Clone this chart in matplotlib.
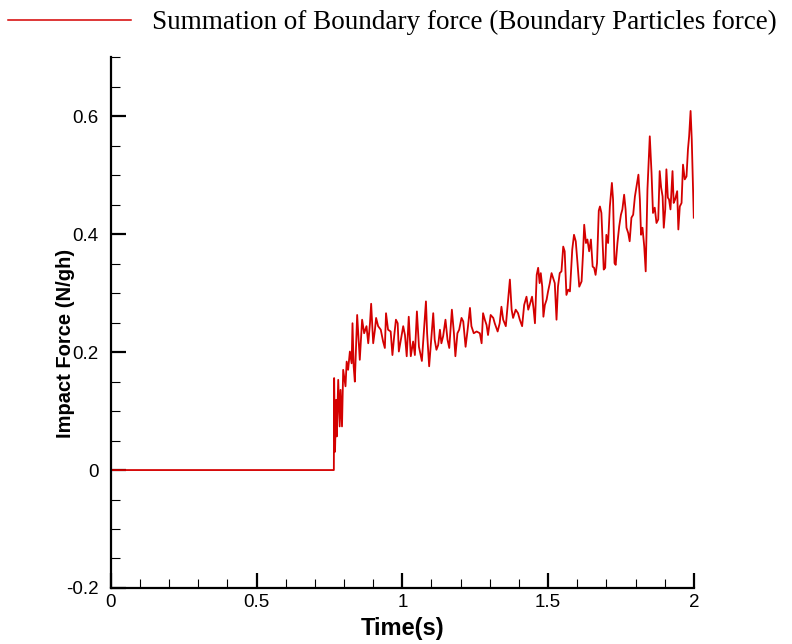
import matplotlib
matplotlib.use("Agg")
import matplotlib.pyplot as plt
from matplotlib.ticker import MultipleLocator, FuncFormatter

# Time (s)
time = [
    0.000, 0.765, 0.766, 0.769, 0.773, 0.775, 0.780, 0.785, 0.788, 0.793, 0.797,
    0.805, 0.809, 0.814, 0.820, 0.826, 0.829, 0.833, 0.837, 0.845, 0.854,
    0.862, 0.869, 0.877, 0.883, 0.889, 0.893, 0.900, 0.906, 0.910, 0.917,
    0.926, 0.934, 0.940, 0.944, 0.951, 0.960, 0.966, 0.972, 0.978, 0.984,
    0.988, 0.995, 1.003, 1.009, 1.015, 1.022, 1.029, 1.037, 1.043, 1.050,
    1.057, 1.067, 1.081, 1.085, 1.092, 1.100, 1.106, 1.111, 1.117, 1.123,
    1.129, 1.134, 1.140, 1.148, 1.155, 1.161, 1.170, 1.177, 1.182, 1.189,
    1.195, 1.203, 1.209, 1.217, 1.224, 1.232, 1.237, 1.245, 1.255, 1.266,
    1.272, 1.277, 1.283, 1.289, 1.294, 1.303, 1.312, 1.317, 1.327, 1.334,
    1.340, 1.346, 1.355, 1.363, 1.369, 1.375, 1.380, 1.389, 1.397, 1.403,
    1.411, 1.418, 1.426, 1.432, 1.437, 1.445, 1.450, 1.455, 1.461, 1.466,
    1.471, 1.475, 1.480, 1.484, 1.489, 1.495, 1.500, 1.506, 1.512, 1.517,
    1.523, 1.529, 1.534, 1.540, 1.546, 1.552, 1.557, 1.563, 1.569, 1.575,
    1.583, 1.589, 1.595, 1.601, 1.607, 1.615, 1.620, 1.624, 1.630, 1.635,
    1.641, 1.647, 1.653, 1.658, 1.663, 1.668, 1.674, 1.678, 1.683, 1.691,
    1.696, 1.700, 1.706, 1.712, 1.719, 1.723, 1.728, 1.732, 1.738, 1.744,
    1.750, 1.755, 1.761, 1.766, 1.769, 1.775, 1.780, 1.786, 1.792, 1.798,
    1.803, 1.810, 1.815, 1.819, 1.824, 1.830, 1.835, 1.841, 1.849, 1.855,
    1.860, 1.866, 1.872, 1.878, 1.883, 1.888, 1.893, 1.897, 1.902, 1.906,
    1.911, 1.915, 1.920, 1.927, 1.931, 1.936, 1.943, 1.947, 1.952, 1.958,
    1.963, 1.969, 1.975, 1.980, 1.984, 1.989, 1.993, 2.000,
]

# Impact force (N/gh)
force = [
    0.000, 0.000, 0.156, 0.031, 0.119, 0.057, 0.153, 0.074, 0.136, 0.074, 0.170,
    0.142, 0.184, 0.170, 0.201, 0.181, 0.249, 0.176, 0.150, 0.263, 0.187,
    0.255, 0.232, 0.244, 0.215, 0.249, 0.282, 0.215, 0.238, 0.258, 0.244,
    0.238, 0.218, 0.207, 0.266, 0.238, 0.235, 0.195, 0.227, 0.255, 0.249,
    0.201, 0.221, 0.244, 0.229, 0.193, 0.260, 0.193, 0.218, 0.195, 0.269,
    0.209, 0.185, 0.286, 0.232, 0.176, 0.227, 0.266, 0.221, 0.204, 0.212,
    0.238, 0.215, 0.227, 0.255, 0.221, 0.207, 0.272, 0.232, 0.193, 0.232,
    0.238, 0.258, 0.252, 0.209, 0.238, 0.275, 0.244, 0.232, 0.235, 0.232,
    0.215, 0.266, 0.255, 0.246, 0.229, 0.263, 0.258, 0.249, 0.235, 0.249,
    0.277, 0.255, 0.244, 0.289, 0.323, 0.272, 0.258, 0.272, 0.266, 0.255,
    0.244, 0.280, 0.294, 0.272, 0.280, 0.294, 0.275, 0.249, 0.331, 0.343,
    0.317, 0.334, 0.311, 0.260, 0.280, 0.289, 0.303, 0.317, 0.334, 0.326,
    0.317, 0.255, 0.311, 0.334, 0.337, 0.379, 0.371, 0.297, 0.306, 0.303,
    0.374, 0.399, 0.388, 0.351, 0.311, 0.320, 0.368, 0.416, 0.385, 0.391,
    0.371, 0.391, 0.345, 0.343, 0.331, 0.351, 0.440, 0.447, 0.436, 0.340,
    0.343, 0.399, 0.385, 0.447, 0.487, 0.459, 0.351, 0.348, 0.385, 0.413,
    0.433, 0.442, 0.467, 0.442, 0.411, 0.402, 0.388, 0.428, 0.433, 0.464,
    0.479, 0.501, 0.459, 0.399, 0.411, 0.379, 0.337, 0.476, 0.566, 0.504,
    0.436, 0.445, 0.419, 0.425, 0.507, 0.479, 0.464, 0.411, 0.442, 0.510,
    0.462, 0.459, 0.442, 0.507, 0.453, 0.459, 0.473, 0.408, 0.447, 0.453,
    0.518, 0.493, 0.498, 0.544, 0.566, 0.609, 0.561, 0.428,
]

legend_label = "Summation of Boundary force (Boundary Particles force)"
x_label = "Time(s)"
y_label = "Impact Force (N/gh)"
x_ticks = [0, 0.5, 1, 1.5, 2]
y_ticks = [-0.2, 0, 0.2, 0.4, 0.6]

line_color = "#d40000"

fig = plt.figure(figsize=(7.92, 6.44), dpi=100)
ax = fig.add_axes([0.140, 0.087, 0.736, 0.824])

ax.plot(time, force, color=line_color, lw=1.3)

ax.set_xlim(0, 2)
ax.set_ylim(-0.2, 0.7)

for s in ("top", "right"):
    ax.spines[s].set_visible(False)
for s in ("left", "bottom"):
    ax.spines[s].set_linewidth(1.6)

ax.set_xticks(x_ticks)
ax.set_yticks(y_ticks)
ax.xaxis.set_minor_locator(MultipleLocator(0.1))
ax.yaxis.set_minor_locator(MultipleLocator(0.05))

def fmt(v, pos):
    s = f"{v:g}"
    if s == "-0":
        s = "0"
    return s

ax.xaxis.set_major_formatter(FuncFormatter(fmt))
ax.yaxis.set_major_formatter(FuncFormatter(fmt))

ax.tick_params(which="major", direction="in", length=11, width=1.6,
               labelsize=13.5)
ax.tick_params(axis="x", which="major", pad=4)
ax.tick_params(axis="y", which="major", pad=9)
ax.tick_params(which="minor", direction="in", length=6.5, width=0.8)
for lab in ax.get_xticklabels() + ax.get_yticklabels():
    lab.set_fontfamily("Liberation Sans")

ax.set_xlabel(x_label, fontsize=17, fontweight="bold", family="Liberation Sans")
ax.set_ylabel(y_label, fontsize=14.5, fontweight="bold", family="Liberation Sans")
ax.xaxis.set_label_coords(0.5, -0.054)
ax.yaxis.set_label_coords(-0.062, 0.46)

# Legend at the top
fig.add_artist(plt.Line2D([8 / 792, 131 / 792], [1 - 20 / 644, 1 - 20 / 644],
                          color=line_color, lw=1.1))
fig.text(152 / 792, 1 - 22 / 644, legend_label, family="Liberation Serif",
         fontsize=19.5, va="center", ha="left")

fig.savefig("out.png", dpi=100)
